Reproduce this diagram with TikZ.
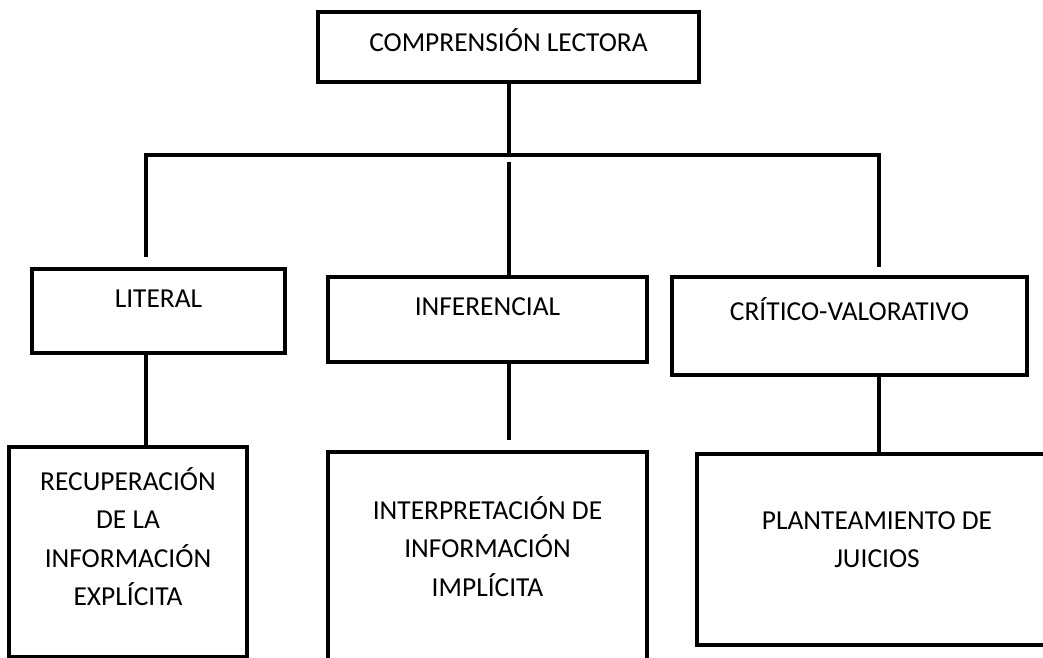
\documentclass[tikz,border=0pt]{standalone}
\usepackage{fontspec}
\setmainfont{Carlito}

\begin{document}
\begin{tikzpicture}[x=0.2mm,y=-0.2mm,
    lvl/.style={draw,line width=0.8mm,inner sep=0pt,align=flush center,anchor=north,
      font=\fontsize{15.6}{22}\selectfont},
    link/.style={line width=0.8mm}]
  \useasboundingbox (0,0) rectangle (1043,658);
  \clip (0,0) rectangle (1043,658);

  % root
  \node[lvl,text width=76.2mm,text height=8mm,text depth=6mm] (comp) at (508.5,10) {COMPRENSIÓN LECTORA};

  % levels
  \node[lvl,text width=50.6mm,text height=7.8mm,text depth=9mm] (lit) at (158.5,267) {LITERAL};
  \node[lvl,text width=63.8mm,text height=7.8mm,text depth=9.2mm] (inf) at (487.5,275) {INFERENCIAL};
  \node[lvl,text width=71mm,text height=8.8mm,text depth=10.8mm] (crit) at (849.5,275) {CRÍTICO-VALORATIVO};

  % skills
  \node[lvl,text width=47.6mm,text height=8.6mm,text depth=33.4mm] (recu) at (128,445)
    {RECUPERACIÓN\\DE LA\\INFORMACIÓN\\EXPLÍCITA};
  \node[lvl,text width=63.8mm,text height=13.4mm,text depth=32.6mm] (interp) at (487.5,450)
    {INTERPRETACIÓN DE\\INFORMACIÓN\\IMPLÍCITA};
  \node[lvl,text width=72mm,text height=15mm,text depth=23.2mm] (plant) at (877,452)
    {PLANTEAMIENTO DE\\JUICIOS};

  % connectors
  \coordinate (busL) at (146,155);
  \coordinate (busM) at (509,155);
  \coordinate (busR) at (879,155);
  \draw[link] (comp.south) -- (comp.south |- busL);
  \draw[link,shorten <=2mm,shorten >=1.6mm] (busL |- lit.north) -- (busL) -- (busR) -- (busR |- crit.north);
  \draw[link,shorten <=1.4mm] (busM) -- (busM |- inf.north);
  \draw[link] (busL |- lit.south) -- (busL |- recu.north);
  \draw[link,shorten >=2mm] (busM |- inf.south) -- (busM |- interp.north);
  \draw[link] (busR |- crit.south) -- (busR |- plant.north);
\end{tikzpicture}
\end{document}
